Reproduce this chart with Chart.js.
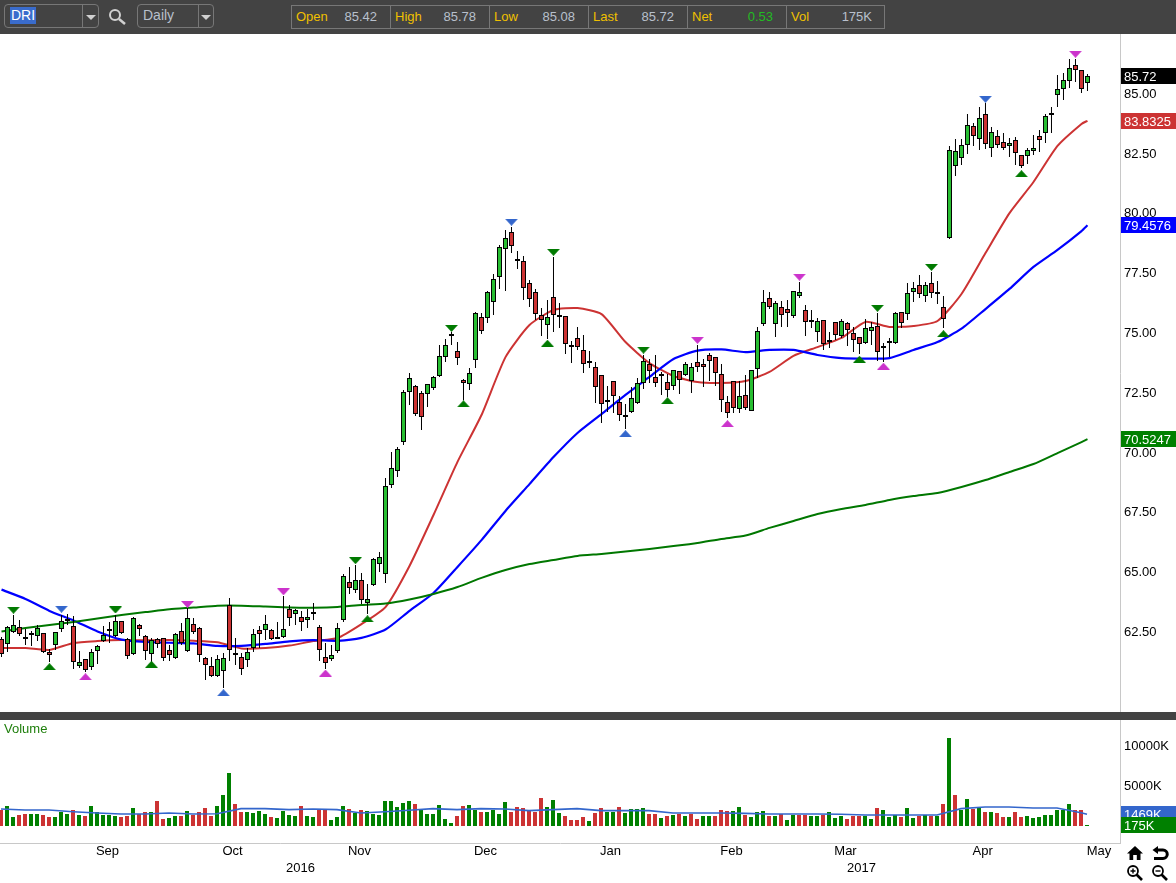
<!DOCTYPE html>
<html>
<head>
<meta charset="utf-8">
<title>DRI Daily</title>
<script src="https://cdn.jsdelivr.net/npm/chart.js@4/dist/chart.umd.min.js"></script>
<style>
    html, body { margin: 0; padding: 0; background: #fff; overflow: hidden; }
    body { width: 1176px; height: 883px; position: relative; font-family: "Liberation Sans", Arial, sans-serif; }
    canvas { position: absolute; left: 0; }
    #toolbar { position: absolute; left: 0; top: 0; width: 1176px; height: 34px; background: #434343; font-size: 13px; color: #b8c0cc; }
    #divider { position: absolute; left: 0; top: 712px; width: 1176px; height: 8px; background: #434343; }
    .box { position: absolute; top: 4px; height: 22px; border: 1px solid #777; border-radius: 4px; box-sizing: content-box; }
    .sep { position: absolute; top: 0; bottom: 0; width: 1px; background: #777; }
    .cell { position: absolute; height: 16px; line-height: 16px; }
    .lbl { position: absolute; left: 4px; top: 0; color: #f0c000; }
    .val { position: absolute; top: 0; width: 60px; left: 25px; text-align: right; }
    .arrow { position: absolute; width: 0; height: 0; border-left: 5px solid transparent; border-right: 5px solid transparent; border-top: 5px solid #d0d0d0; top: 10px; }
    svg.icon { position: absolute; }
    #vollabel { position: absolute; left: 4px; top: 721px; font-size: 13px; line-height: 15px; color: #1f7f0c; }
</style>
</head>
<body>
<div id="toolbar">
    <div class="box" style="left:4px;width:93px">
        <span style="position:absolute;left:5px;top:2px;height:17px;line-height:17px;background:#3a6ccc;color:#fff;padding:0 1px;font-size:14px">DRI</span>
        <div class="sep" style="left:77px"></div>
        <div class="arrow" style="left:81px"></div>
    </div>
    <svg class="icon" style="left:108px;top:8px" width="19" height="18" viewBox="0 0 19 18">
        <circle cx="7" cy="7" r="5" fill="none" stroke="#d0d0d0" stroke-width="2"/>
        <line x1="11" y1="11" x2="17" y2="16" stroke="#d0d0d0" stroke-width="2.5"/>
    </svg>
    <div class="box" style="left:137px;width:75px">
        <span style="position:absolute;left:5px;top:2px;line-height:17px;font-size:14px">Daily</span>
        <div class="sep" style="left:60px"></div>
        <div class="arrow" style="left:63px"></div>
    </div>
    <div id="quote" style="position:absolute;left:291px;top:5px;width:592px;height:22px;border:1px solid #777"></div>
</div>
<canvas id="priceChart" style="top:34px" width="1176" height="678"></canvas>
<div id="divider"></div>
<canvas id="volumeChart" style="top:720px" width="1176" height="163"></canvas>
<div id="vollabel">Volume</div>
<svg class="icon" style="left:1126px;top:844px" width="18" height="18" viewBox="0 0 18 18">
    <path d="M9 2 L17 9.5 L14.5 9.5 L14.5 16 L10.8 16 L10.8 11 L7.2 11 L7.2 16 L3.5 16 L3.5 9.5 L1 9.5 Z" fill="#000"/>
</svg>
<svg class="icon" style="left:1151px;top:844px" width="18" height="18" viewBox="0 0 18 18">
    <path d="M7 2 L1.5 6 L7 10 Z" fill="#000"/>
    <path d="M5 6 L12 6 A4.2 4.2 0 0 1 12 14.5 L3 14.5" fill="none" stroke="#000" stroke-width="3"/>
</svg>
<svg class="icon" style="left:1126px;top:864px" width="18" height="18" viewBox="0 0 18 18">
    <circle cx="7" cy="7" r="5" fill="#fff" stroke="#000" stroke-width="1.8"/>
    <path d="M4.5 7 H9.5 M7 4.5 V9.5" stroke="#000" stroke-width="1.4"/>
    <line x1="10.5" y1="10.5" x2="16" y2="16" stroke="#000" stroke-width="2.6"/>
</svg>
<svg class="icon" style="left:1151px;top:864px" width="18" height="18" viewBox="0 0 18 18">
    <circle cx="7" cy="7" r="5" fill="#fff" stroke="#000" stroke-width="1.8"/>
    <path d="M4.5 7 H9.5" stroke="#000" stroke-width="1.4"/>
    <line x1="10.5" y1="10.5" x2="16" y2="16" stroke="#000" stroke-width="2.6"/>
</svg>
<script>
// quote strip
const quoteLabels = ['Open', 'High', 'Low', 'Last', 'Net', 'Vol'];
const quoteValues = ['85.42', '85.78', '85.08', '85.72', '0.53', '175K'];

// daily candles, oldest first
const opens = [
    62.15,61.97,62.47,62.65,62.21,62.32,62.28,62.40,61.61,61.90,
    62.60,62.96,62.70,61.05,61.32,60.98,61.65,62.07,62.54,62.28,
    62.90,62.15,61.52,62.74,62.28,61.52,62.15,62.19,61.69,61.36,
    62.49,61.65,62.78,62.61,61.36,61.05,60.60,60.84,63.57,61.52,
    61.40,61.27,61.80,62.53,62.53,62.53,62.22,62.24,63.41,63.20,
    63.07,62.95,63.27,62.65,61.40,61.32,61.65,62.95,64.53,64.23,
    64.62,63.66,64.41,65.29,64.87,68.59,69.18,70.42,72.48,72.73,
    72.44,72.39,72.65,73.15,73.94,74.89,74.19,72.98,72.81,73.82,
    75.64,75.57,76.24,77.29,78.46,79.17,78.01,77.98,77.03,76.66,
    75.70,75.28,76.45,75.68,75.66,74.43,74.74,74.23,73.75,73.52,
    73.19,72.14,72.94,72.06,71.50,71.64,72.02,72.85,73.65,73.10,
    73.23,72.90,72.73,73.36,73.19,72.94,73.73,73.65,74.02,73.94,
    73.23,72.06,72.94,71.77,72.35,71.68,73.44,75.32,76.41,75.32,
    76.03,75.95,75.66,76.49,75.91,75.47,74.99,75.49,74.64,75.40,
    74.82,75.36,74.94,74.78,74.53,75.03,75.24,74.32,74.57,74.53,
    75.82,75.74,76.66,76.95,76.49,77.03,76.64,76.03,78.94,81.93,
    82.26,82.80,83.60,83.06,84.10,82.68,83.18,82.93,82.76,83.01,
    82.39,82.34,82.55,83.18,83.31,84.06,84.89,85.15,85.48,86.15,
    85.94,85.42
];
const highs = [
    62.26,62.71,63.17,62.96,62.57,62.50,62.75,62.40,61.76,62.47,
    63.17,63.21,63.13,61.66,61.32,61.75,61.91,62.71,62.89,63.17,
    62.90,62.19,63.07,62.78,62.33,62.19,62.19,62.22,61.91,62.40,
    62.82,63.45,63.03,62.68,61.40,61.40,61.50,61.57,63.87,62.19,
    61.57,61.78,62.57,62.71,63.17,62.57,62.89,63.96,63.59,63.41,
    63.35,63.41,63.66,62.75,61.98,61.91,62.82,64.87,65.19,65.26,
    64.91,64.46,65.54,65.80,68.88,69.98,70.18,72.58,73.27,72.77,
    72.52,72.81,73.16,74.46,74.69,75.01,74.57,73.04,73.48,75.82,
    75.78,76.71,77.42,78.64,79.26,79.38,78.39,78.18,77.17,76.78,
    75.99,76.34,78.15,76.20,75.66,74.64,75.22,74.87,74.21,73.73,
    73.19,72.74,72.94,72.34,71.99,72.71,73.09,74.04,73.86,74.04,
    73.34,73.23,73.40,73.36,73.76,73.69,74.46,73.86,74.11,73.94,
    73.65,72.32,72.94,72.94,73.19,73.40,75.20,76.76,76.66,76.30,
    76.30,76.34,76.70,77.10,76.13,75.92,75.57,75.49,74.99,75.40,
    75.53,75.43,75.20,74.78,75.53,75.43,75.78,74.53,74.74,75.85,
    75.82,77.06,77.08,77.38,77.10,77.52,77.13,76.51,82.78,83.06,
    83.06,84.11,83.75,84.39,84.56,83.56,83.45,83.31,83.10,83.14,
    82.39,82.68,83.24,83.45,84.11,84.42,85.74,85.81,86.41,86.41,
    85.94,85.78
];
const lows = [
    61.43,61.64,62.43,62.29,61.91,61.87,62.10,61.57,61.20,61.71,
    62.47,62.75,60.90,60.97,60.79,60.87,61.12,62.03,62.01,62.26,
    62.37,61.34,61.50,62.30,61.29,61.18,61.78,61.26,61.26,61.32,
    61.90,61.62,62.37,61.22,60.45,60.59,60.56,60.10,61.26,61.08,
    60.66,61.00,61.64,61.78,62.12,62.12,62.19,62.19,62.71,62.75,
    62.50,62.64,62.96,61.26,60.91,61.26,61.59,62.89,64.05,64.10,
    63.63,63.21,64.38,64.98,64.52,68.49,68.95,70.28,71.95,71.49,
    70.90,71.88,72.58,73.13,73.75,74.46,73.62,72.16,72.58,73.51,
    74.92,75.39,75.71,76.80,76.71,78.32,77.63,76.34,76.06,75.50,
    74.83,74.69,75.01,75.18,74.08,73.69,74.25,73.30,73.48,72.02,
    71.18,71.67,71.63,71.29,70.96,71.60,71.99,72.63,72.85,72.69,
    72.37,72.30,72.58,72.39,73.16,72.46,73.34,72.69,72.95,72.76,
    71.67,71.39,71.60,71.63,71.74,71.68,73.09,75.25,75.95,74.80,
    75.22,75.22,75.57,76.41,74.83,75.15,74.60,74.25,74.32,74.67,
    74.74,74.43,74.18,74.08,74.48,74.46,73.79,73.76,73.94,74.50,
    75.15,75.50,76.27,76.41,76.27,76.41,76.16,75.15,78.87,81.54,
    81.98,82.46,82.79,82.62,82.64,82.33,82.68,82.61,82.33,81.98,
    81.84,82.02,82.40,82.54,82.89,83.33,84.42,84.70,85.22,85.47,
    85.01,85.08
];
const closes = [
    61.52,62.65,62.74,62.36,62.21,62.40,62.61,61.61,61.48,62.44,
    62.93,62.96,61.19,61.22,60.86,61.61,61.86,62.32,62.54,62.90,
    62.40,61.44,63.03,62.57,61.65,62.11,61.96,61.36,61.48,62.36,
    61.98,63.03,62.44,61.48,61.09,60.60,61.32,61.36,61.69,61.52,
    60.93,61.61,62.36,62.39,62.78,62.15,62.22,62.57,63.03,63.36,
    62.86,63.07,63.27,61.69,61.15,61.48,62.61,64.79,64.31,64.62,
    63.78,63.82,65.50,65.58,68.55,69.30,70.09,72.48,73.06,71.56,
    71.46,72.81,73.11,73.98,74.44,74.89,73.90,72.85,73.27,75.78,
    75.03,76.66,77.20,78.54,78.92,78.58,78.01,76.83,76.37,75.74,
    75.49,75.64,75.70,75.68,74.51,74.43,74.36,73.65,73.75,72.69,
    72.00,72.06,72.31,71.52,71.50,72.23,72.85,73.77,73.36,72.85,
    73.15,72.56,73.40,72.98,73.65,73.52,73.52,73.52,73.77,73.27,
    72.14,71.60,71.81,72.31,71.81,73.40,75.03,76.24,76.03,76.20,
    75.70,75.78,76.70,76.66,75.40,75.47,75.45,74.48,74.64,74.86,
    75.45,75.07,74.65,74.48,75.15,75.20,74.15,74.40,74.57,75.78,
    75.36,76.62,76.83,76.57,76.95,76.62,76.64,75.53,82.59,82.55,
    82.80,83.64,83.18,83.93,82.85,83.35,82.80,82.68,82.89,82.47,
    81.93,82.59,82.68,83.01,84.02,84.14,85.15,85.52,86.02,85.94,
    85.15,85.72
];

// volume in thousands, and whether each bar is an up day (1) or a down day (0)
const volumes = [
    2000,2500,1125,1375,1500,1500,1500,1375,1125,1125,
    1750,1500,2000,1375,1250,2500,1750,1375,1375,1250,
    1125,1250,2250,1500,1750,1750,3125,875,1000,1250,
    1250,1875,1375,1750,2250,1250,2500,3875,6625,2750,
    1750,1750,1625,1875,1500,1125,1000,1875,1375,1250,
    2500,1250,1125,2000,2000,750,1125,2500,2125,1625,
    2000,1875,1500,1375,3125,3125,2375,2875,3125,2750,
    2000,1500,1500,2625,875,375,1250,2500,2625,2000,
    1750,1750,2000,1500,3000,1750,2375,2250,1875,1750,
    3500,2375,3250,1625,1250,750,750,1125,625,1625,
    2250,1750,1750,2375,1625,2125,2125,2250,1500,1500,
    1000,1250,1375,1500,1250,1500,875,1250,1250,1250,
    2000,1875,1875,2375,1375,1125,1750,1875,1250,1250,
    1500,750,1375,1375,1375,1250,1250,1375,1750,1000,
    1250,875,1250,1250,1250,875,2250,2000,1125,1375,
    1125,2250,1000,1250,1375,1250,1250,2750,11000,3875,
    2000,3375,2125,2250,1750,1750,1625,1125,1125,1750,
    1125,1250,1000,1125,1375,1375,2000,2000,2750,2000,
    2000,175
];
const volumeUp = [
    0,1,1,0,0,1,1,0,0,1,
    1,1,0,1,0,1,1,1,1,1,
    0,0,1,0,0,1,0,0,1,1,
    0,1,0,0,0,0,1,1,1,0,
    0,1,1,1,1,0,1,1,1,1,
    0,1,1,0,0,1,1,1,0,1,
    0,1,1,1,1,1,1,1,1,0,
    1,1,1,1,1,1,0,0,1,1,
    0,1,1,1,1,0,0,0,0,0,
    0,1,1,1,0,0,0,0,1,0,
    0,1,1,0,1,1,1,1,0,0,
    1,0,1,0,1,0,0,1,1,0,
    0,0,1,1,0,1,1,1,0,1,
    0,1,1,0,0,1,1,0,1,1,
    1,0,0,0,1,1,0,1,1,1,
    0,1,1,0,1,0,1,0,1,0,
    1,1,0,1,0,1,0,0,1,0,
    0,1,1,1,1,1,1,1,1,0,
    0,1
];

// moving averages read at every fourth bar
const maIndex = [
    0,4,8,12,16,20,24,28,32,36,40,44,48,52,56,60,64,68,72,76,80,84,88,92,
    96,100,104,108,112,116,120,124,128,132,136,140,144,148,152,156,160,164,168,172,176,180,181
];
const ma20 = [
    61.79,61.79,61.71,62.00,62.08,62.12,62.11,62.12,62.09,62.03,
    61.77,61.79,61.89,62.08,62.21,62.79,63.50,65.22,67.35,69.57,
    71.53,73.95,75.29,75.92,76.00,75.75,74.58,73.70,73.16,72.91,
    72.87,72.95,73.33,74.00,74.37,74.75,75.42,75.21,75.25,75.46,
    76.59,78.30,79.97,81.27,82.78,83.70,83.83
];
const ma50 = [
    64.23,63.84,63.34,62.94,62.48,62.14,62.04,62.01,61.98,61.88,
    61.88,61.96,62.07,62.12,62.09,62.21,62.56,63.34,64.09,65.18,
    66.30,67.52,68.64,69.77,70.78,71.57,72.37,73.12,73.87,74.22,
    74.27,74.16,74.25,74.25,74.04,73.91,73.89,73.91,74.25,74.58,
    75.14,75.96,76.80,77.72,78.43,79.22,79.46
];
const ma200 = [
    62.48,62.63,62.75,62.88,63.02,63.17,63.29,63.41,63.48,63.56,
    63.56,63.52,63.48,63.47,63.50,63.59,63.65,63.82,64.05,64.34,
    64.72,65.05,65.30,65.47,65.64,65.72,65.82,65.93,66.05,66.18,
    66.35,66.49,66.81,67.10,67.39,67.60,67.77,67.98,68.14,68.27,
    68.52,68.81,69.15,69.48,69.94,70.40,70.52
];
const volumeMa = [
    2125,2000,2000,1790,1625,1500,1500,1625,1500,1540,
    2167,2167,2042,2125,2042,1625,1790,1960,2167,2042,
    2167,2125,1917,2042,2167,1917,1917,1917,1625,1625,
    1625,1580,1500,1500,1500,1460,1375,1375,1375,1375,
    2167,2375,2375,2250,2250,1660,1469
];

// swing markers: bar index, price, and which triangle
const pivotIndex = [2,8,10,14,19,25,31,37,47,54,59,61,75,77,85,91,92,104,107,111,116,121,133,143,146,147,155,157,164,170,179];
const pivotPrice = [63.37,61.01,63.41,60.59,63.38,61.11,63.61,59.92,64.14,60.74,65.44,63.01,75.15,72.00,79.59,74.53,78.33,70.75,74.24,72.13,74.65,71.17,77.29,73.86,75.99,73.57,77.70,74.93,84.73,81.62,86.61];
const pivotKind = ['gd','gu','bd','pu','gd','gu','pd','bu','pd','pu','gd','gu','gd','gu','bd','gu','gd','bu','gd','gu','pd','pu','pd','gu','gd','pu','gd','gu','bd','gu','pd'];

// axes
const priceTicks = [62.5, 65, 67.5, 70, 72.5, 75, 77.5, 80, 82.5, 85];
const volumeTicks = [5000, 10000];
const monthTicks = [17.75, 38.6, 59.75, 80.75, 101.6, 121.75, 140.75, 163.6, 183];
const monthLabels = ['Sep', 'Oct', 'Nov', 'Dec', 'Jan', 'Feb', 'Mar', 'Apr', 'May'];
const yearTicks = [49.9, 143.4];
const yearLabels = ['2016', '2017'];

// last-value flags on the right
const priceFlags = [
    { text: '85.72', value: 85.72, color: '#000000' },
    { text: '83.8325', value: 83.8325, color: '#cc3333' },
    { text: '79.4576', value: 79.4576, color: '#0000ff' },
    { text: '70.5247', value: 70.5247, color: '#008000' }
];
const volumeFlags = [
    { text: '1469K', value: 1469, color: '#3366cc' },
    { text: '175K', value: 175, color: '#008000' }
];

const GREEN = '#28be32';
const RED = '#cc3333';
const FONT = { family: '"Liberation Sans", Arial, sans-serif', size: 13 };

// fill the quote strip
const quote = document.getElementById('quote');
quoteLabels.forEach(function(label, i) {
    const left = 99 * i;
    const cell = document.createElement('div');
    cell.className = 'cell';
    cell.style.left = left + 'px';
    cell.style.top = '3px';
    cell.style.width = '98px';
    const color = label === 'Net' ? 'color:#22bb22' : '';
    cell.innerHTML = '<span class="lbl">' + label + '</span><span class="val" style="' + color + '">' + quoteValues[i] + '</span>';
    quote.appendChild(cell);
    if (i > 0) {
        const sep = document.createElement('div');
        sep.className = 'sep';
        sep.style.left = (left - 1) + 'px';
        quote.appendChild(sep);
    }
});

// flat triangles for the swing markers
function triangle(color, down) {
    const c = document.createElement('canvas');
    c.width = 13;
    c.height = 7;
    const g = c.getContext('2d');
    g.fillStyle = color;
    g.beginPath();
    if (down) {
        g.moveTo(0, 0); g.lineTo(13, 0); g.lineTo(6.5, 7);
    } else {
        g.moveTo(0, 7); g.lineTo(13, 7); g.lineTo(6.5, 0);
    }
    g.closePath();
    g.fill();
    return c;
}
const triangles = {
    gd: triangle('#007a00', true),
    gu: triangle('#007a00', false),
    bd: triangle('#3366cc', true),
    bu: triangle('#3366cc', false),
    pd: triangle('#cc33cc', true),
    pu: triangle('#cc33cc', false)
};

// draws the coloured last-value boxes over the right axis
function flagsPlugin(flags) {
    return {
        id: 'flags',
        afterDraw: function(chart) {
            const ctx = chart.ctx;
            const y = chart.scales.y;
            ctx.save();
            ctx.font = FONT.size + 'px ' + FONT.family;
            ctx.textBaseline = 'middle';
            flags.forEach(function(f) {
                const py = Math.round(y.getPixelForValue(f.value));
                ctx.fillStyle = f.color;
                ctx.fillRect(1121, py - 8, 55, 16);
                ctx.fillStyle = '#ffffff';
                ctx.fillText(f.text, 1124, py + 1);
            });
            ctx.restore();
        }
    };
}

// snap bar ends to whole pixels so borders stay sharp
const snapBars = {
    id: 'snapBars',
    afterDatasetsUpdate: function(chart) {
        chart.data.datasets.forEach(function(ds, i) {
            if (ds.type !== 'bar') return;
            chart.getDatasetMeta(i).data.forEach(function(bar) {
                bar.y = Math.round(bar.y);
                bar.base = Math.round(bar.base);
                if (bar.y === bar.base) bar.base = bar.y + 2;
            });
        });
    }
};

function lineSet(values, color, width) {
    return {
        type: 'line',
        data: maIndex.map(function(x, i) { return { x: x, y: values[i] }; }),
        borderColor: color,
        borderWidth: width,
        pointRadius: 0,
        tension: 0.2,
        order: 5
    };
}

function fixedWidth(width) {
    return function(scale) {
        scale.width = width;
        scale.paddingTop = 0;
        scale.paddingBottom = 0;
    };
}

const priceChart = new Chart(document.getElementById('priceChart').getContext('2d'), {
    data: {
        datasets: [
            lineSet(ma200, '#007700', 2),
            lineSet(ma50, '#0000ff', 2.2),
            lineSet(ma20, RED, 2),
            {
                type: 'bar',
                data: highs.map(function(h, i) { return { x: i, y: [lows[i], h] }; }),
                backgroundColor: '#000000',
                barThickness: 1,
                grouped: false,
                inflateAmount: 0,
                order: 3
            },
            {
                type: 'bar',
                // a flat open/close still needs a visible tick
                data: opens.map(function(o, i) {
                    const c = closes[i];
                    return { x: i, y: o === c ? [c - 0.04, c + 0.04] : [o, c] };
                }),
                backgroundColor: opens.map(function(o, i) {
                    return closes[i] > o ? GREEN : closes[i] < o ? RED : '#000000';
                }),
                borderColor: '#000000',
                borderWidth: 1,
                borderSkipped: false,
                barThickness: 5,
                grouped: false,
                inflateAmount: 0,
                order: 2
            },
            {
                type: 'line',
                data: pivotIndex.map(function(x, i) { return { x: x, y: pivotPrice[i] }; }),
                showLine: false,
                pointRadius: 6,
                pointStyle: function(c) { return triangles[pivotKind[c.dataIndex]]; },
                order: 1
            }
        ]
    },
    options: {
        responsive: false,
        animation: false,
        events: [],
        layout: { autoPadding: false, padding: 0 },
        plugins: { legend: { display: false }, tooltip: { enabled: false } },
        scales: {
            x: { type: 'linear', display: false, offset: false, min: -0.25, max: 186.42 },
            y: {
                type: 'linear',
                position: 'right',
                min: 59.114,
                max: 87.458,
                afterFit: fixedWidth(56),
                afterBuildTicks: function(s) { s.ticks = priceTicks.map(function(v) { return { value: v }; }); },
                grid: { display: false, drawTicks: false },
                border: { display: true, color: '#c8c8c8', width: 1 },
                ticks: {
                    padding: 4,
                    labelOffset: 1.5,
                    autoSkip: false,
                    color: '#000000',
                    font: FONT,
                    callback: function(v) { return v.toFixed(2); }
                }
            }
        }
    },
    plugins: [snapBars, flagsPlugin(priceFlags)]
});

const volumeChart = new Chart(document.getElementById('volumeChart').getContext('2d'), {
    data: {
        datasets: [
            {
                type: 'line',
                data: maIndex.map(function(x, i) { return { x: x, y: volumeMa[i] }; }),
                borderColor: '#3366cc',
                borderWidth: 1.6,
                pointRadius: 0,
                order: 1
            },
            {
                type: 'bar',
                data: volumes.map(function(v, i) { return { x: i, y: v }; }),
                backgroundColor: volumeUp.map(function(u) { return u ? '#008000' : RED; }),
                barThickness: 4,
                inflateAmount: 0,
                order: 2
            }
        ]
    },
    options: {
        responsive: false,
        animation: false,
        events: [],
        layout: { autoPadding: false, padding: 0 },
        plugins: { legend: { display: false }, tooltip: { enabled: false } },
        scales: {
            x: {
                type: 'linear',
                position: 'bottom',
                weight: 0,
                offset: false,
                min: -1 / 6,
                max: 1119 / 6,
                afterFit: function(s) { s.height = 20; s.paddingLeft = 0; s.paddingRight = 0; },
                afterBuildTicks: function(s) { s.ticks = monthTicks.map(function(v) { return { value: v }; }); },
                grid: { display: false, drawTicks: false },
                border: { display: true, color: '#c8c8c8', width: 1 },
                ticks: {
                    padding: 1,
                    autoSkip: false,
                    maxRotation: 0,
                    color: '#000000',
                    font: FONT,
                    callback: function(v, i) { return monthLabels[i]; }
                }
            },
            x2: {
                type: 'linear',
                position: 'bottom',
                weight: 1,
                offset: false,
                min: -1 / 6,
                max: 1119 / 6,
                afterFit: function(s) { s.height = 20; s.paddingLeft = 0; s.paddingRight = 0; },
                afterBuildTicks: function(s) { s.ticks = yearTicks.map(function(v) { return { value: v }; }); },
                grid: { display: false, drawTicks: false },
                border: { display: false },
                ticks: {
                    padding: -2,
                    autoSkip: false,
                    maxRotation: 0,
                    color: '#000000',
                    font: FONT,
                    callback: function(v, i) { return yearLabels[i]; }
                }
            },
            y: {
                type: 'linear',
                position: 'right',
                min: -2125,
                max: 13250,
                afterFit: fixedWidth(56),
                afterBuildTicks: function(s) { s.ticks = volumeTicks.map(function(v) { return { value: v }; }); },
                grid: { display: false, drawTicks: false },
                border: { display: true, color: '#c8c8c8', width: 1 },
                ticks: {
                    padding: 4,
                    autoSkip: false,
                    color: '#000000',
                    font: FONT,
                    callback: function(v) { return v + 'K'; }
                }
            }
        }
    },
    plugins: [snapBars, flagsPlugin(volumeFlags)]
});
</script>
</body>
</html>
